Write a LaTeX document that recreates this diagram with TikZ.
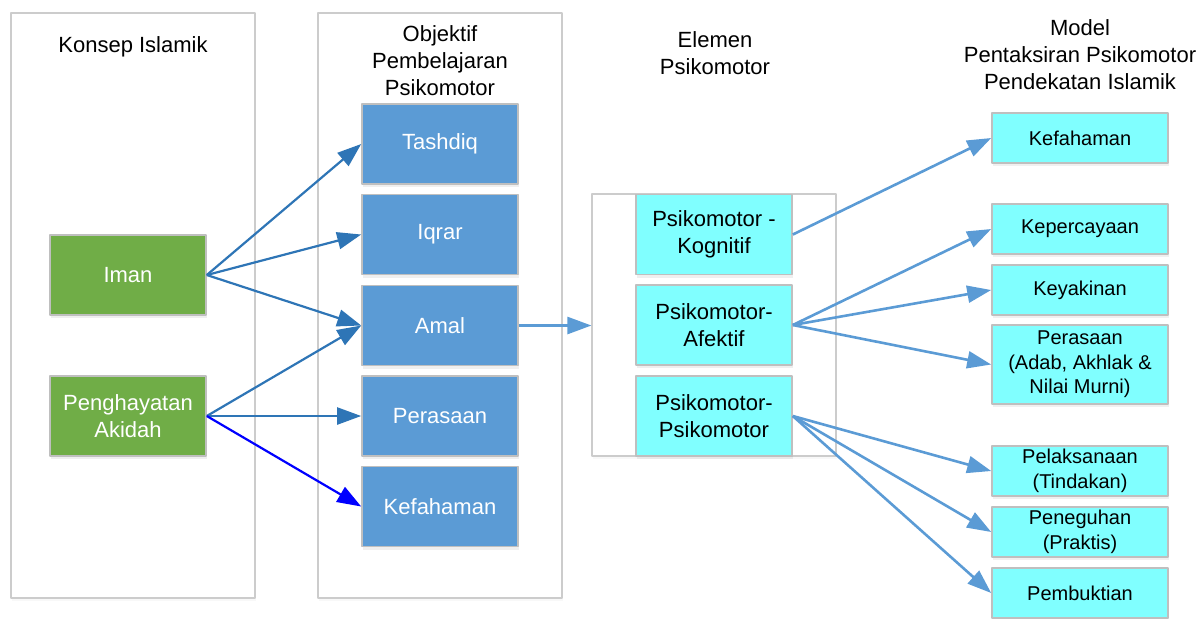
\documentclass[tikz,border=0pt]{standalone}
\usepackage{fontspec}
\setmainfont{Liberation Sans}
\usetikzlibrary{arrows.meta,shadows}
\definecolor{framegray}{RGB}{204,204,204}
\definecolor{boxgray}{RGB}{191,191,191}
\definecolor{leafgreen}{RGB}{112,173,71}
\definecolor{skyblue}{RGB}{91,155,213}
\definecolor{steelblue}{RGB}{46,117,182}
\definecolor{aqua}{RGB}{128,255,255}
\tikzset{
  frame/.style={draw=framegray, fill=white, line width=0.6pt, minimum width=122pt, inner sep=0pt,
    drop shadow={shadow xshift=0.5pt, shadow yshift=-1.5pt, opacity=0.06}},
  box/.style={draw=boxgray, line width=0.8pt, minimum width=78pt, minimum height=40pt,
    align=center, inner sep=1pt,
    drop shadow={shadow xshift=0.5pt, shadow yshift=-1.5pt, opacity=0.12}},
  greenbox/.style={box, fill=leafgreen, text=white},
  bluebox/.style={box, fill=skyblue, text=white},
  aquabox/.style={box, fill=aqua},
  aimbox/.style={box, fill=aqua, minimum width=88pt, minimum height=25pt,
    font=\fontsize{10}{12.3}\selectfont},
  title/.style={align=center, inner sep=0pt},
  darklink/.style={->, draw=steelblue, line width=1.1pt},
  lightlink/.style={->, draw=skyblue, line width=1.3pt}
}
\begin{document}
\begin{tikzpicture}[x=0.5pt, y=-0.5pt, font=\fontsize{11}{13.5}\selectfont, line join=round,
  >={Triangle[length=12pt,width=8.5pt]}]
  \useasboundingbox (0,0) rectangle (1203,618);
  % columns
  \node[frame, minimum height=292.5pt] (konsep) at (133,305.5) {};
  \node[frame, minimum height=292.5pt] (objektif) at (440,305.5) {};
  \node[frame, minimum height=131pt] (elemen) at (714,325) {};
  \node[title] at (133,47) {Konsep Islamik};
  \node[title] at (440,61) {Objektif\\Pembelajaran\\Psikomotor};
  \node[title] at (715,53) {Elemen\\Psikomotor};
  \node[title] at (1080,55) {Model\\Pentaksiran Psikomotor\\Pendekatan Islamik};
  % konsep islamik
  \node[greenbox] (iman) at (128,275) {Iman};
  \node[greenbox] (akidah) at (128,416) {Penghayatan\\Akidah};
  % objektif
  \node[bluebox] (tashdiq) at (440,144) {Tashdiq};
  \node[bluebox] (iqrar) at (440,234.5) {Iqrar};
  \node[bluebox] (amal) at (440,325.5) {Amal};
  \node[bluebox] (perasaan) at (440,416) {Perasaan};
  \node[bluebox] (faham) at (440,506.5) {Kefahaman};
  % elemen
  \node[aquabox] (kognitif) at (714,234.5) {Psikomotor -\\Kognitif};
  \node[aquabox] (afektif) at (714,325) {Psikomotor-\\Afektif};
  \node[aquabox] (psiko) at (714,416) {Psikomotor-\\Psikomotor};
  % model pentaksiran
  \node[aimbox] (mkefahaman) at (1080,138) {Kefahaman};
  \node[aimbox] (mpercaya) at (1080,229) {Kepercayaan};
  \node[aimbox] (myakin) at (1080,290) {Keyakinan};
  \node[aimbox, minimum height=39.5pt] (mrasa) at (1080,364.5) {Perasaan\\(Adab, Akhlak \&\\Nilai Murni)};
  \node[aimbox] (mlaksana) at (1080,471) {Pelaksanaan\\(Tindakan)};
  \node[aimbox] (mteguh) at (1080,532) {Peneguhan\\(Praktis)};
  \node[aimbox] (mbukti) at (1080,593) {Pembuktian};
  % links
  \foreach \t in {tashdiq,iqrar,amal}
    \draw[darklink] (iman.east) -- (\t.west);
  \foreach \t in {amal,perasaan}
    \draw[darklink] (akidah.east) -- (\t.west);
  \draw[darklink, draw=blue] (akidah.east) -- (faham.west);
  \draw[lightlink] (amal.east) -- (amal.east -| elemen.west);
  \draw[lightlink] (kognitif.east) -- (mkefahaman.west);
  \foreach \t in {mpercaya,myakin,mrasa}
    \draw[lightlink] (afektif.east) -- (\t.west);
  \foreach \t in {mlaksana,mteguh,mbukti}
    \draw[lightlink] (psiko.east) -- (\t.west);
\end{tikzpicture}
\end{document}
